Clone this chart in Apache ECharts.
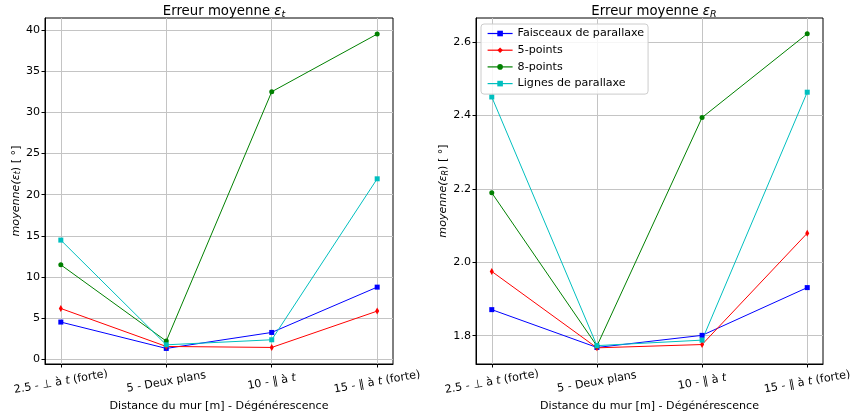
<!DOCTYPE html>
<html><head><meta charset="utf-8">
<script src="https://cdn.jsdelivr.net/npm/echarts@6/dist/echarts.min.js"></script>
<style>html,body{margin:0;padding:0;background:#fff}#c{width:855px;height:418px}</style>
</head><body><div id="c"></div>
<script>
const categories = ['2.5 - ⊥ à t (forte)', '5 - Deux plans', '10 - ∥ à t', '15 - ∥ à t (forte)'];
const seriesNames = ['Faisceaux de parallaxe', '5-points', '8-points', 'Lignes de parallaxe'];
const errT_faisceaux = [4.54, 1.34, 3.28, 8.78];
const errT_5pts = [6.19, 1.58, 1.46, 5.87];
const errT_8pts = [11.49, 2.23, 32.5, 39.5];
const errT_lignes = [14.49, 1.78, 2.39, 21.93];
const errR_faisceaux = [1.871, 1.768, 1.801, 1.931];
const errR_5pts = [1.975, 1.767, 1.776, 2.079];
const errR_8pts = [2.189, 1.772, 2.394, 2.622];
const errR_lignes = [2.450, 1.773, 1.788, 2.463];
const ticksT = [0, 5, 10, 15, 20, 25, 30, 35, 40];
const ticksR = [1.8, 2.0, 2.2, 2.4, 2.6];

const FONT = 'DejaVu Sans';
const FS = 11.1;
const colors = ['#0000ff', '#ff0000', '#008000', '#00bfbf'];
const symbols = ['rect', 'diamond', 'circle', 'rect'];
const sizes = [5, [4, 7], 5, 5];
const catIdx = categories.map((c, i) => i);
const richStyles = {
  i: {fontStyle: 'italic', fontFamily: FONT, fontSize: FS, color: '#000'},
  s: {fontStyle: 'italic', fontFamily: FONT, fontSize: 8, color: '#000', padding: [4, 0, 0, 0]}
};

function xAxis(gi) {
  return {
    type: 'value', gridIndex: gi, min: -0.15, max: 3.15,
    name: 'Distance du mur [m] - Dégénérescence', nameLocation: 'middle', nameGap: 35,
    nameTextStyle: {fontFamily: FONT, fontSize: FS, color: '#000'},
    axisLine: {show: true, onZero: false, lineStyle: {color: '#000', width: 1}},
    axisTick: {show: true, customValues: catIdx, length: 3.5, lineStyle: {color: '#000'}},
    axisLabel: {customValues: catIdx, rotate: 10, align: 'center', verticalAlign: 'middle', margin: 18,
      fontFamily: FONT, fontSize: FS, color: '#000',
      formatter: v => categories[Math.round(v)].replace('à t', 'à {i|t}'),
      rich: {i: {fontStyle: 'italic', fontFamily: FONT, fontSize: FS, color: '#000'}}},
    splitLine: {show: true, lineStyle: {color: '#c4c4c4', width: 1}}
  };
}
function yAxis(gi, min, max, ticks, name, fmt) {
  return {
    type: 'value', gridIndex: gi, min: min, max: max,
    name: name, nameLocation: 'middle', nameRotate: 90, nameGap: gi === 0 ? 20 : 24,
    nameTextStyle: {fontFamily: FONT, fontSize: FS, color: '#000', rich: richStyles},
    axisLine: {show: true, onZero: false, lineStyle: {color: '#000', width: 1}},
    axisTick: {show: true, customValues: ticks, length: 3.5, lineStyle: {color: '#000'}},
    axisLabel: {customValues: ticks, fontFamily: FONT, fontSize: FS, color: '#000', margin: 5, formatter: fmt},
    splitLine: {show: true, lineStyle: {color: '#c4c4c4', width: 1}}
  };
}
function mk(gi, name, k, vals) {
  return {
    type: 'line', name: name, xAxisIndex: gi, yAxisIndex: gi,
    data: vals.map((v, i) => [catIdx[i], v]),
    symbol: symbols[k], symbolSize: sizes[k], showSymbol: true,
    lineStyle: {color: colors[k], width: 1}, itemStyle: {color: colors[k]},
    emphasis: {disabled: true}, animation: false
  };
}
const chart = echarts.init(document.getElementById('c'), null, {renderer: 'canvas'});
const tSets = [errT_faisceaux, errT_5pts, errT_8pts, errT_lignes];
const rSets = [errR_faisceaux, errR_5pts, errR_8pts, errR_lignes];
const series = [];
tSets.forEach((v, k) => series.push(mk(0, seriesNames[k], k, v)));
rSets.forEach((v, k) => series.push(mk(1, seriesNames[k], k, v)));
const titleStyle = {fontFamily: FONT, fontSize: 13.3, fontWeight: 'normal', color: '#000',
  rich: {i: {fontStyle: 'italic', fontFamily: FONT, fontSize: 13.3, color: '#000'},
         s: {fontStyle: 'italic', fontFamily: FONT, fontSize: 9.5, color: '#000', padding: [6, 0, 0, 0]}}};
chart.setOption({
  animation: false,
  textStyle: {fontFamily: FONT},
  title: [
    {text: 'Erreur moyenne {i|ε}{s|t}', left: 219, top: -1, textAlign: 'center', textStyle: titleStyle},
    {text: 'Erreur moyenne {i|ε}{s|R}', left: 649, top: -1, textAlign: 'center', textStyle: titleStyle}
  ],
  legend: {
    data: seriesNames, orient: 'vertical', left: 481, top: 24,
    itemWidth: 25, itemHeight: 7, itemGap: 3.7,
    padding: [3, 4, 4, 6],
    lineStyle: {width: 1.2},
    backgroundColor: 'rgba(255,255,255,0.85)', borderColor: '#cccccc', borderWidth: 1, borderRadius: 3,
    textStyle: {fontFamily: FONT, fontSize: FS, color: '#000', lineHeight: 13},
    selectedMode: false
  },
  grid: [
    {left: 45, top: 18, width: 348, height: 346, show: true, borderColor: '#000', borderWidth: 1, backgroundColor: 'transparent'},
    {left: 476, top: 18, width: 347, height: 346, show: true, borderColor: '#000', borderWidth: 1, backgroundColor: 'transparent'}
  ],
  xAxis: [xAxis(0), xAxis(1)],
  yAxis: [
    yAxis(0, -0.55, 41.45, ticksT, '{i|moyenne(ε}{s|t}) [ °]', v => String(Math.round(v))),
    yAxis(1, 1.723, 2.665, ticksR, '{i|moyenne(ε}{s|R}) [ °]', v => v.toFixed(1))
  ],
  series: series
});
</script>
</body></html>
